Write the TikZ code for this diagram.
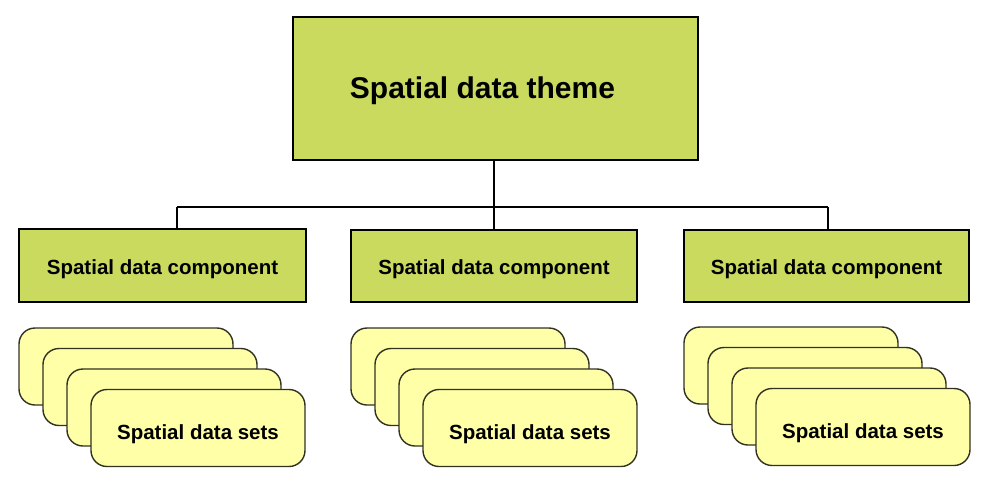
\documentclass[tikz,border=0pt]{standalone}
\usepackage{fontspec}
\setmainfont{Liberation Sans}
\usetikzlibrary{positioning}

\definecolor{themegreen}{RGB}{201,218,94}
\definecolor{setyellow}{RGB}{255,255,168}
\definecolor{setedge}{RGB}{50,50,35}

\begin{document}
\begin{tikzpicture}[x=1pt, y=-1pt]
	\useasboundingbox (0,0) rectangle (991,482);

	\begin{scope}[every node/.style={rectangle, draw=black, line width=1.8pt, fill=themegreen,
	                                 font=\bfseries\fontsize{20.5}{24}\selectfont, inner sep=0pt,
	                                 text height=17pt, text depth=0pt}]
		\node[minimum width=405pt, minimum height=143pt, text height=20pt,
		      font=\bfseries\fontsize{30}{35}\selectfont] (theme) at (495.5,88.5) {Spatial data theme\kern26pt};
		\node[minimum width=287pt, minimum height=73pt] (comp1) at (162.5,265.5) {Spatial data component};
		\node[minimum width=286pt, minimum height=72pt] (comp2) at (494,266) {Spatial data component};
		\node[minimum width=285pt, minimum height=72pt] (comp3) at (826.5,266) {Spatial data component};
	\end{scope}

	\coordinate (j1) at (177,207);
	\coordinate (j2) at (494,207);
	\coordinate (j3) at (828,207);

	\begin{scope}[every edge/.style={draw=black, line width=1.8pt}]
		\path (j2 |- theme.south) edge (j2);
		\path (j1) edge (j3);
		\path (j1) edge (j1 |- comp1.north);
		\path (j2) edge (comp2.north);
		\path (j3) edge (j3 |- comp3.north);
	\end{scope}

	\begin{scope}[every node/.style={rectangle, rounded corners=16pt, draw=setedge, line width=1.4pt,
	                                 fill=setyellow, minimum width=214pt, minimum height=77pt,
	                                 font=\bfseries\fontsize{20.5}{24}\selectfont, inner sep=0pt,
	                                 text height=22pt, text depth=0pt}]
		\foreach \s/\x/\y in {1/19/328, 2/351/328, 3/684/327}
		{
			\foreach \c in {1,2,3}
			{\node (set\s-\c) at ({\x+107+24*(\c-1)}, {\y+38.5+20.5*(\c-1)}) {};}
			\node (set\s-4) at ({\x+107+72}, {\y+38.5+61.5}) {Spatial data sets};
		}
	\end{scope}
\end{tikzpicture}
\end{document}
